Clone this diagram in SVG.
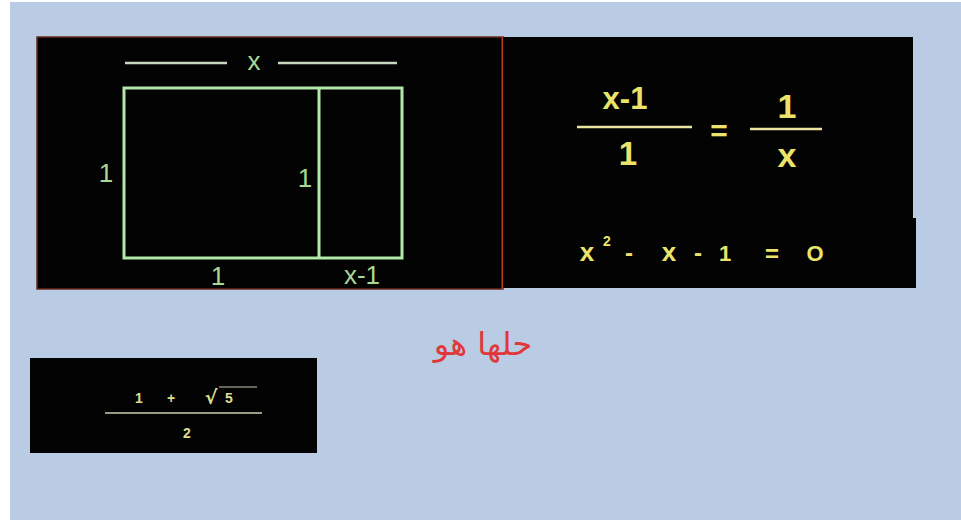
<svg xmlns="http://www.w3.org/2000/svg" width="961" height="522" viewBox="0 0 961 522">
<style>
.panel{fill:#030303}
.lbl{font-family:"Liberation Sans",Arial,sans-serif;fill:#a9d894;font-size:26px;text-anchor:middle}
.eq{font-family:"Liberation Sans",Arial,sans-serif;font-weight:bold;fill:#ece46a;text-anchor:middle}
.sm{font-family:"Liberation Sans",Arial,sans-serif;font-weight:bold;fill:#d9df8e;font-size:14px;text-anchor:middle}
.gl{stroke:#b2e8a8;stroke-width:3;fill:none}
.yl{stroke:#e9e4a0;stroke-width:2.5}
</style>
<rect x="0" y="0" width="961" height="522" fill="#ffffff"/>
<rect x="10" y="2" width="951" height="518" fill="#b9cce4"/>

<g id="geometry-panel">
  <rect class="panel" x="37" y="37" width="466" height="252" stroke="#6a2a1a" stroke-width="1.5"/>
  <line x1="502.5" y1="37" x2="502.5" y2="289" stroke="#c23a22" stroke-width="2"/>
  <line x1="125" y1="63" x2="227" y2="63" stroke="#c8d8c0" stroke-width="2.5"/>
  <line x1="278" y1="63" x2="397" y2="63" stroke="#c8d8c0" stroke-width="2.5"/>
  <text class="lbl" x="254" y="70">x</text>
  <rect class="gl" x="124" y="88" width="278" height="170"/>
  <line class="gl" x1="319" y1="88" x2="319" y2="258"/>
  <text class="lbl" x="106" y="182">1</text>
  <text class="lbl" x="305" y="187">1</text>
  <text class="lbl" x="218" y="285">1</text>
  <text class="lbl" x="362" y="284">x-1</text>
</g>

<g id="equation-panel">
  <rect class="panel" x="503" y="37" width="410" height="251"/>
  <rect class="panel" x="900" y="218" width="16" height="70"/>
  <text class="eq" x="625" y="109" font-size="31">x-1</text>
  <line class="yl" x1="577" y1="127" x2="692" y2="127"/>
  <text class="eq" x="628" y="165" font-size="33">1</text>
  <text class="eq" x="719" y="141" font-size="30">=</text>
  <text class="eq" x="787" y="118" font-size="34">1</text>
  <line class="yl" x1="750" y1="129" x2="822" y2="129"/>
  <text class="eq" x="787" y="167" font-size="34">x</text>
  <text class="eq" x="587" y="261" font-size="26">x</text>
  <text class="eq" x="607" y="246" font-size="14">2</text>
  <text class="eq" x="629" y="261" font-size="24">-</text>
  <text class="eq" x="669" y="261" font-size="26">x</text>
  <text class="eq" x="698" y="261" font-size="24">-</text>
  <text class="eq" x="725" y="261" font-size="22">1</text>
  <text class="eq" x="772" y="262" font-size="24">=</text>
  <text class="eq" x="815" y="261" font-size="22">O</text>
</g>

<g id="solution-label">
  <text x="483" y="355" font-family="'DejaVu Sans','Noto Sans',sans-serif" font-size="32" fill="#e0383a" text-anchor="middle" direction="rtl">حلها هو</text>
</g>

<g id="solution-panel">
  <rect class="panel" x="30" y="358" width="287" height="95"/>
  <text class="sm" x="139" y="403">1</text>
  <text class="sm" x="171" y="403">+</text>
  <text class="sm" x="211" y="404" style="font-size:19px;font-family:'DejaVu Sans',sans-serif">√</text>
  <text class="sm" x="229" y="403">5</text>
  <line x1="219" y1="387" x2="257" y2="387" stroke="#c8c8b0" stroke-width="1"/>
  <line x1="105" y1="413" x2="262" y2="413" stroke="#9a9a88" stroke-width="2"/>
  <text class="sm" x="187" y="438">2</text>
</g>
</svg>
